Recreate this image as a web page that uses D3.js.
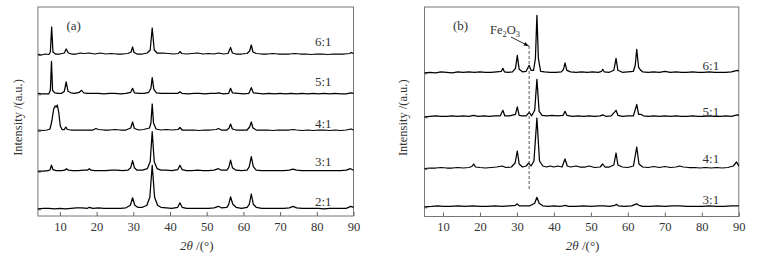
<!DOCTYPE html>
<html><head><meta charset="utf-8">
<script src="https://cdn.jsdelivr.net/npm/d3@7"></script>
<style>body{margin:0;background:#fff} svg{display:block} text{font-family:"Liberation Serif","Times New Roman",Times,serif;fill:#333}</style>
</head><body><svg id="c" width="762" height="260"></svg>
<script>
// ---------- data (2θ, relative intensity a.u.) ----------
const xTicks = [10,20,30,40,50,60,70,80,90];

const labelsA = ["6:1","5:1","4:1","3:1","2:1"];
const offsetsA = [161, 121.7, 85, 44.3, 6.7];
const labelLiftA = [13.3, 13.3, 8, 10, 8.3];

const a61 = [4,1, 5,0, 6,1, 7,0.5, 7.4,3, 7.75,28, 8.1,3, 8.8,1, 10,1, 11.2,2, 11.7,6, 12.3,2, 13.2,1, 14.5,1, 15.5,2, 16.5,1.5, 18,2, 19.5,1, 21,2, 22.5,1, 24,1.5, 25.5,1, 27,1, 28.5,1.5, 29.4,3, 29.8,8, 30.2,2.5, 31,1, 32.5,1, 33.8,2, 34.6,5, 35.15,27, 35.7,5, 36.5,2, 38,2, 39.5,1.5, 41,1, 42.3,1.5, 42.7,3.5, 43.2,1.5, 44.5,1, 46,1.5, 47.5,2, 49,1, 50.5,1.5, 52,1, 53.2,2, 54.5,1, 55.8,1.5, 56.5,7.5, 57,2, 58,1, 59.5,1, 61,1.5, 61.7,4, 62.15,10, 62.6,3, 63.5,1.5, 65,1, 66.5,1, 68,1.5, 69.5,1, 71,1, 72.5,1, 74,1.5, 75.5,1, 77,1, 78.5,0.5, 80,1, 81.5,1, 83,0.5, 84.5,1, 86,1, 87.5,1, 89,1.5, 89.4,2.5, 90,1.5];
const a51 = [4,1, 5,0.5, 6,0.5, 7,0.5, 7.4,4, 7.7,33, 8.0,4, 8.6,1.5, 9.5,1, 10.5,1, 11.2,3, 11.7,12.5, 12.2,3, 13,1.5, 14,1, 15.3,2, 15.9,4, 16.5,1.5, 17.5,1, 19,1, 20.5,1, 22,0.5, 23.5,1, 25,1, 26.5,0.5, 28,1, 29.3,2, 29.8,6, 30.3,1.5, 31.5,1, 33,1, 34.2,2, 34.8,6, 35.15,16.6, 35.6,5, 36.3,1.5, 37.5,1, 39,1, 40.5,1, 42.2,1, 42.7,2.5, 43.2,1, 45,0.5, 46.5,1, 48,1, 49.5,0.5, 51,1, 52.5,1, 53.3,1.5, 54.5,0.5, 56,1, 56.5,6, 57,1.5, 58.5,1, 60,0.5, 61.5,1, 62.15,6.6, 62.7,1.5, 64,1, 65.5,0.5, 67,1, 68.5,0.5, 70,1, 71.5,0.5, 73,1, 74.5,0.5, 76,1, 77.5,0.5, 79,1, 80.5,0.5, 82,1, 83.5,0.5, 85,1, 86.5,0.5, 88,0.5, 89.3,1.5, 90,1];
const a41 = [4,1, 5.5,0.5, 6.5,1, 7.3,2, 7.8,10, 8.3,22, 8.7,25, 9.0,24, 9.3,26, 9.7,18, 10.1,5, 10.6,1.5, 11.2,1.5, 11.6,4, 12,1.5, 13,1, 14.5,1, 16,1, 17.5,1, 19,1, 19.8,2.5, 20.5,1.5, 22,1, 23.5,1, 25,1.5, 26.5,1, 28,1, 29.3,3, 29.8,9, 30.3,2.5, 31.5,1, 32.8,1.5, 34.4,3, 34.8,8, 35.15,27, 35.5,8, 36.2,2, 37.5,1, 39,1.5, 40.5,1, 42.2,1.5, 42.7,3.5, 43.3,1, 45,1, 46.5,1, 48,0.5, 49.5,1, 51,1, 52.6,1.5, 53.2,2.5, 54,1, 55.5,1, 56.1,3, 56.5,7, 57,2, 58,1, 59.5,1, 61,1, 61.7,4, 62.15,9, 62.6,3, 63.5,1, 65,1, 66.5,1, 68,0.5, 69.5,1, 71,1, 72.5,1, 73.5,1.5, 74.5,1, 76,0.5, 77.5,1, 79,0.5, 80.5,1, 82,1, 83.5,0.5, 85,1, 86.5,0.5, 88,1, 89.3,2, 90,1];
const a31 = [4,0.5, 5.5,0.5, 6.8,1, 7.3,2, 7.7,6.5, 8.1,2, 9,1, 10.5,1, 11.3,1.5, 11.8,3, 12.3,1.5, 13.5,1, 15,1, 16.5,1.5, 17.5,1.5, 18,3, 18.5,1.5, 19.5,1, 21,1, 22.5,1, 24,1.5, 25.5,1.5, 27,1, 28.5,1.5, 29.3,4, 29.8,11, 30.3,4, 31,1.5, 32.5,1.5, 33.8,3, 34.6,10, 35.15,40, 35.7,10, 36.5,3, 37.5,1.5, 39,1.5, 40.5,1, 42.1,2, 42.7,6.5, 43.3,2, 44.5,1, 46,1, 47.5,1.5, 49,1, 50.5,1, 52,1.5, 53.2,3, 54,1.5, 55.5,1.5, 56,4, 56.5,11.5, 57,4, 58,1.5, 59.5,1, 61,1.5, 61.6,5, 62.15,15, 62.7,5, 63.5,1.5, 65,1, 66.5,1, 68,1, 69.5,1, 71,1, 72.5,1.5, 73.5,2.5, 74.5,1.5, 76,1, 77.5,1, 79,1, 80.5,1, 82,1, 83.5,1, 85,1, 86.5,1, 88,1.5, 89.2,3, 90,1.5];
const a21 = [4,0.5, 5.5,1, 7,1, 8.5,0.5, 10,1, 11.5,0.5, 13,1, 14.5,1.5, 16,1.5, 17.5,1, 18,2, 19,1, 20.5,1.5, 22,1, 23.5,1, 25,1, 26.5,1, 28,1.5, 29.2,4, 29.8,11.5, 30.4,4, 31.2,2, 32.5,2, 33.7,4, 34.5,12, 35.15,44, 35.8,12, 36.6,4, 37.5,2, 39,1.5, 40.5,1, 42.1,2, 42.7,6.5, 43.3,2, 44.5,1, 46,1, 47.5,1, 49,1, 50.5,1, 52,1.5, 53.2,3, 54,1.5, 55.5,2, 56,5, 56.5,12.5, 57.1,5, 58,2, 59.5,1, 61,2, 61.6,5, 62.15,15.3, 62.7,5, 63.5,2, 65,1, 66.5,1, 68,1, 69.5,1, 71,1, 72.5,1.5, 73.5,3, 74.5,1.5, 76,1, 77.5,1, 79,1, 80.5,1, 82,0.5, 83.5,1, 85,1, 86.5,1, 88,1, 89.3,3, 90,2];
const seriesA = [a61, a51, a41, a31, a21];

const labelsB = ["6:1","5:1","4:1","3:1"];
const offsetsB = [143.2, 99.2, 47.5, 9.2];
const labelLiftB = [8.3, 6.3, 10.7, 8.3];

const b61 = [5,0.5, 6.5,1, 8,0.5, 9.5,1.5, 11,1, 12.5,0.5, 14,1.5, 15.5,1, 17,1.5, 18.5,1, 20,1.5, 21.5,1, 23,1, 24.5,1.5, 25.8,2, 26.2,5, 26.6,1.5, 27.5,1, 28.8,1.5, 29.6,5, 30.1,18, 30.6,4, 31.5,1.5, 32.5,2, 32.9,5, 33.3,8, 33.8,3, 34.5,3, 35,15, 35.4,58, 35.8,15, 36.4,2, 37.5,1.5, 39,1, 40.5,1, 42,1.5, 42.6,4, 43,10.5, 43.5,3, 44.5,1.5, 46,1, 47.5,1.5, 49,1, 50.5,1.5, 52,1, 52.9,2, 53.2,4, 53.6,1.5, 55,1, 56.2,3, 56.8,15, 57.3,3, 58.5,1, 60,1.5, 61.5,2, 62,8, 62.4,24, 62.9,6, 63.5,3, 64,1.5, 65.5,1, 67,1.5, 68.5,1, 70,2, 71.5,1, 73,1.5, 74.5,1, 76,1, 77.5,1.5, 79,1, 80.5,1, 82,1.5, 83.5,1, 85,1, 86.5,1, 88,1.5, 89.6,3, 90,2];
const b51 = [5,0.5, 6.5,1, 8,1.5, 9.5,1, 11,1, 12.5,1.5, 14,1, 15.5,1.5, 17,1, 18.3,2, 19.5,1, 21,1.5, 22.5,1, 24,1.5, 25.5,1.5, 26.2,7, 26.7,1.5, 28,1.5, 29.6,3, 30.1,10.5, 30.6,2, 31.5,1.5, 32.5,1.5, 33.3,5, 34,1.5, 34.8,7, 35.4,38, 36,6, 36.8,2, 38,1.5, 39.5,2, 41,1.5, 42.5,2, 43,6, 43.5,2, 45,1, 46.5,1.5, 48,1, 49.5,1.5, 51,1, 52.5,1.5, 53.2,2.5, 54,1, 55.5,1.5, 56.8,7, 57.3,2, 58.5,1, 60,1.5, 61.5,1.5, 62.4,13, 62.9,3, 63.5,3, 64.2,1.5, 65.5,1, 67,1.5, 68.5,1, 70,1.5, 71.5,1, 73,1.5, 74.5,1, 76,1, 77.5,1.5, 79,1, 80.5,1, 82,1.5, 83.5,1, 85,1, 86.5,1.5, 88,1, 89.6,2.5, 90,2];
const b41 = [5,0.5, 6.5,1, 8,1, 9.5,1.5, 11,1, 12.5,1, 14,1.5, 15.5,1, 17,1.5, 17.8,2.5, 18.3,5, 18.8,2, 20,1.5, 21.5,1, 23,1.5, 24.5,2, 26,3, 27,1.5, 28.5,2, 29.5,6, 30.1,18, 30.6,5, 31.5,2, 32.5,3, 33.2,6, 33.8,3, 34.6,8, 35.4,51, 36.1,8, 37,3, 38,2, 39,3, 40,2, 41,3, 42.2,2, 43,10, 43.6,3, 44.5,2, 46,3, 47,2, 48.5,2, 49.5,3, 51,1.5, 52.5,2, 53.2,5, 53.8,2, 55,2, 56.2,4, 56.8,16, 57.3,4, 58.5,2, 60,1.5, 61.5,3, 62.4,22, 63,5, 64,2, 65.5,1.5, 67,2.5, 68.5,1.5, 70,2.5, 71.5,1.5, 73,2, 74,3, 75,2, 76.5,1.5, 78,1.5, 79.5,1, 81,1.5, 82.5,1, 84,1.5, 85.5,1, 87,1.5, 88.5,3, 89.4,7, 90,3];
const b31 = [5,0.5, 7,1, 8.5,1.5, 10,1, 12,1, 14,1.5, 16,1, 18,1.5, 20,1, 22,1, 24,1.5, 26,1, 28,1.5, 29.6,2, 30.1,3.5, 30.6,1.5, 32,1.5, 33.5,1.5, 34.8,4, 35.4,10, 36,4, 37,1.5, 38.5,1, 40,1.5, 41.5,1, 42.5,1.5, 43,2, 44,1, 46,1, 48,1.5, 50,1, 52,1.5, 53.5,1.5, 55,1, 56.5,2, 56.9,3, 57.4,1.5, 59,1, 61,1.5, 62,3, 62.4,3.5, 63,2, 64,1, 66,1, 68,1.5, 70,1, 72,1.5, 74,1.5, 76,1, 78,1, 80,1, 82,1.5, 84,1, 86,1, 88,1.5, 90,1.5];
const seriesB = [b61, b51, b41, b31];

// Fe2O3 reference line (2θ, from/to in a.u.)
const fePos = 33.3;
const feSpan = [26.5, 170.5];

// ---------- drawing ----------
const svg = d3.select("#c");
svg.append("defs").append("marker")
  .attr("id","arr").attr("viewBox","0 0 10 10").attr("refX",9).attr("refY",5)
  .attr("markerWidth",6).attr("markerHeight",6).attr("orient","auto")
  .append("path").attr("d","M0,1.5 L10,5 L0,8.5 Z").attr("fill","#111");

function toPts(flat){ const p=[]; for(let i=0;i<flat.length;i+=2) p.push([flat[i],flat[i+1]]); return p; }

function panel(cfg){
  const x = d3.scaleLinear().domain(cfg.xd).range(cfg.xr);
  const y = d3.scaleLinear().domain(cfg.yd).range(cfg.yr);
  const g = svg.append("g");
  g.append("rect").attr("x",cfg.xr[0]).attr("y",cfg.yr[1]).attr("width",cfg.xr[1]-cfg.xr[0])
    .attr("height",cfg.yr[0]-cfg.yr[1]).attr("fill","none").attr("stroke","#777").attr("stroke-width",1);
  const ax = g.append("g").attr("transform",`translate(0,${cfg.yr[0]})`)
    .call(d3.axisBottom(x).tickValues(xTicks).tickSizeInner(-4).tickSizeOuter(0).tickPadding(6));
  ax.select(".domain").remove();
  ax.selectAll("line").attr("stroke","#666");
  ax.selectAll("text").attr("font-size","12.5px").attr("fill","#3a3a3a").style("font-family","'Liberation Serif',serif");
  const ay = g.append("g").attr("transform",`translate(${cfg.xr[0]},0)`)
    .call(d3.axisRight(y).tickValues(cfg.offsets).tickSizeInner(3).tickSizeOuter(0).tickFormat(""));
  ay.select(".domain").remove();
  ay.selectAll("line").attr("stroke","#666");
  const line = d3.line().x(d=>x(d[0])).y(d=>y(d[1]));
  cfg.series.forEach((s,i)=>{
    const pts = toPts(s).map(d=>[d[0], d[1]+cfg.offsets[i]]);
    g.append("path").datum(pts).attr("d",line).attr("fill","none")
      .attr("stroke","#000").attr("stroke-width",1.25).attr("stroke-linejoin","round");
    g.append("text").attr("x",x(cfg.labelX)).attr("y",y(cfg.offsets[i]+cfg.lift[i]))
      .attr("dy","0.35em").attr("font-size","13px").text(cfg.labels[i]);
  });
  g.append("text").attr("x",cfg.tagX).attr("y",30).attr("font-size","13px").text(cfg.tag);
  const xt = g.append("text").attr("x",(cfg.xr[0]+cfg.xr[1])/2 + 1).attr("y",250)
    .attr("text-anchor","middle").attr("font-size","13px");
  xt.append("tspan").attr("font-style","italic").text("2θ");
  xt.append("tspan").text(" /(°)");
  g.append("text").attr("transform",`translate(${cfg.ylx},${(cfg.yr[0]+cfg.yr[1])/2+6}) rotate(-90)`)
    .attr("text-anchor","middle").attr("dy","0.35em").attr("font-size","12.5px").text("Intensity /(a.u.)");
  return {x,y,g};
}

panel({xd:[4,90], xr:[37.9,353.5], yd:[0,209], yr:[216,7], series:seriesA, offsets:offsetsA,
  labels:labelsA, lift:labelLiftA, labelX:79.5, tag:"(a)", tagX:66.5, ylx:17.5});
const pb = panel({xd:[5,90], xr:[424.5,738.8], yd:[0,209.5], yr:[216.5,7], series:seriesB, offsets:offsetsB,
  labels:labelsB, lift:labelLiftB, labelX:80.2, tag:"(b)", tagX:453, ylx:403});

pb.g.append("line").attr("x1",pb.x(fePos)).attr("x2",pb.x(fePos))
  .attr("y1",pb.y(feSpan[1])).attr("y2",pb.y(feSpan[0]))
  .attr("stroke","#444").attr("stroke-width",0.9).attr("stroke-dasharray","3,2");
const fe = pb.g.append("text").attr("x",490).attr("y",34).attr("font-size","12.5px");
fe.append("tspan").text("Fe");
fe.append("tspan").attr("font-size","8.5px").attr("dy","3").text("2");
fe.append("tspan").attr("dy","-3").text("O");
fe.append("tspan").attr("font-size","8.5px").attr("dy","3").text("3");
pb.g.append("line").attr("x1",511).attr("y1",37).attr("x2",pb.x(fePos)-0.5).attr("y2",pb.y(feSpan[1]))
  .attr("stroke","#111").attr("stroke-width",0.9).attr("marker-end","url(#arr)");
</script></body></html>
